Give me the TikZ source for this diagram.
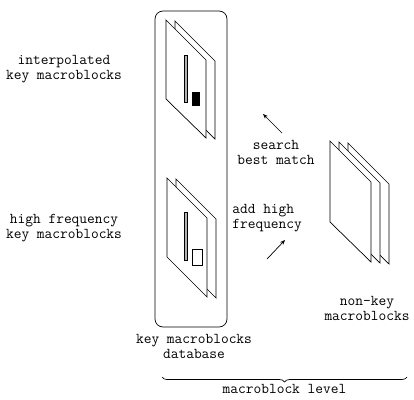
\documentclass[tikz,border=0pt]{standalone}
\usepackage{fontspec}
\usetikzlibrary{arrows.meta,positioning,decorations.pathreplacing}

\tikzset{
  lbl/.style={font=\ttfamily\fontsize{15}{15}\selectfont,align=center,inner sep=0pt},
  sheet/.style={draw,fill=white,line width=0.7pt},
  bar/.style={draw,fill=gray!60,line width=0.6pt},
}

\begin{document}
\begin{tikzpicture}[x=1pt,y=-1pt,>={Stealth[length=5pt,width=4pt]},line width=0.7pt]
  \useasboundingbox (0,0) rectangle (414,399);

  % database box
  \draw[rounded corners=8pt] (155,11) rectangle (227,327);

  % interpolated key macroblocks
  \draw[sheet] (175,21) -- (215,61) -- (215,139) -- (175,100) -- cycle;
  \draw[sheet] (166,20) -- (206,60) -- (206,138) -- (166,99) -- cycle;
  \draw[bar] (184,55) rectangle (187,102);
  \fill (192,92) rectangle (200,106);

  % high frequency key macroblocks
  \draw[sheet] (176,179) -- (216,219) -- (216,298) -- (176,258) -- cycle;
  \draw[sheet] (167,178) -- (207,218) -- (207,297) -- (167,257) -- cycle;
  \draw[bar] (184,212) rectangle (187,260);
  \draw (192,249) rectangle (202,265);

  % non-key macroblocks
  \draw[sheet] (348,143) -- (389,184) -- (389,264) -- (348,224) -- cycle;
  \draw[sheet] (339,142) -- (380,183) -- (380,263) -- (339,223) -- cycle;
  \draw[sheet] (330,141) -- (371,182) -- (371,262) -- (330,222) -- cycle;

  % labels
  \node[lbl] (interp) at (64,69) {interpolated\\key macroblocks};
  \node[lbl] (highf)  at (64,228) {high frequency\\key macroblocks};
  \node[lbl] (search) at (276,152) {search\\best match};
  \node[lbl,align=left,anchor=west] (addhf) at (232,218) {add high\\frequency};
  \node[lbl] (nonkey) at (367,308) {non-key\\macroblocks};
  \node[lbl] (dbase)  at (194,346) {key macroblocks\\database};

  % arrows
  \coordinate (s1) at (282,133);
  \coordinate (s2) at (263,114);
  \coordinate (a1) at (267,259);
  \coordinate (a2) at (285,240);
  \draw[->] (s1) -- (s2);
  \draw[->] (a1) -- (a2);

  % level brace
  \coordinate (b1) at (162,377);
  \coordinate (b2) at (407,377);
  \draw[decorate,decoration={brace,mirror,amplitude=5pt}] (b1) -- (b2)
    node[lbl,midway,below=7pt] (level) {macroblock level};
\end{tikzpicture}
\end{document}
